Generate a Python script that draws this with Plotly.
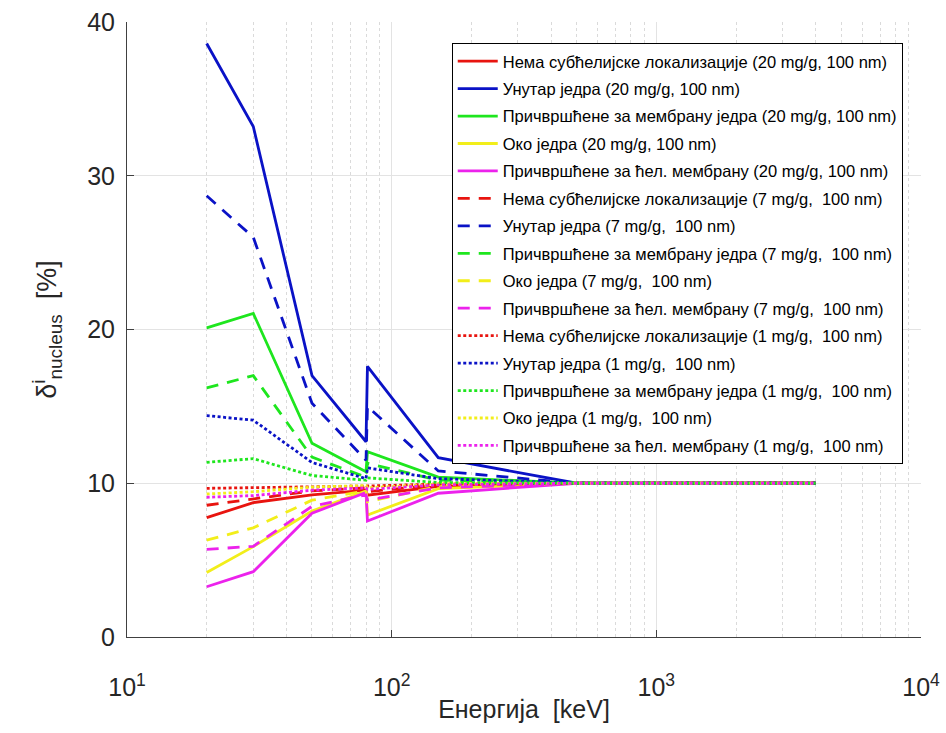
import plotly.graph_objects as go

# Photon energies (keV)
energy = [20, 30, 50, 80, 81, 150, 500, 1000, 4000]

# 20 mg/g, 100 nm
no_loc_20 = [7.76, 8.74, 9.24, 9.55, 9.22, 9.8, 10.0, 10.0, 10.0]
in_nuc_20 = [38.6, 33.2, 17.0, 12.7, 17.6, 11.66, 10.0, 10.0, 10.0]
nuc_mem_20 = [20.1, 21.05, 12.6, 10.75, 12.05, 10.4, 10.0, 10.0, 10.0]
around_20 = [4.19, 5.88, 8.2, 9.5, 7.93, 9.65, 10.0, 10.0, 10.0]
cell_mem_20 = [3.27, 4.25, 8.05, 9.4, 7.54, 9.35, 10.0, 10.0, 10.0]

# 7 mg/g, 100 nm
no_loc_7 = [8.57, 8.97, 9.5, 9.7, 9.45, 9.9, 10.0, 10.0, 10.0]
in_nuc_7 = [28.7, 26.0, 15.2, 11.5, 15.0, 10.8, 10.0, 10.0, 10.0]
nuc_mem_7 = [16.2, 17.0, 11.7, 10.4, 11.3, 10.2, 10.0, 10.0, 10.0]
around_7 = [6.3, 7.1, 8.9, 9.5, 8.8, 9.8, 10.0, 10.0, 10.0]
cell_mem_7 = [5.7, 5.9, 8.5, 9.25, 8.9, 9.7, 10.0, 10.0, 10.0]

# 1 mg/g, 100 nm
no_loc_1 = [9.67, 9.72, 9.8, 9.85, 9.82, 9.95, 10.0, 10.0, 10.0]
in_nuc_1 = [14.4, 14.1, 11.35, 10.3, 11.0, 10.3, 10.0, 10.0, 10.0]
nuc_mem_1 = [11.36, 11.6, 10.5, 10.2, 10.35, 10.05, 10.0, 10.0, 10.0]
around_1 = [9.3, 9.45, 9.75, 9.85, 9.7, 9.95, 10.0, 10.0, 10.0]
cell_mem_1 = [9.09, 9.2, 9.55, 9.7, 9.6, 9.9, 10.0, 10.0, 10.0]

locations = [
    "Нема субћелијске локализације",
    "Унутар једра",
    "Причвршћене за мембрану једра",
    "Око једра",
    "Причвршћене за ћел. мембрану",
]
colors = ["#e8140f", "#0a12c6", "#1ee61e", "#f2ee1a", "#ec22ec"]

groups = [
    ("20 mg/g, 100 nm", "solid", [no_loc_20, in_nuc_20, nuc_mem_20, around_20, cell_mem_20]),
    ("7 mg/g,  100 nm", "12px,9px", [no_loc_7, in_nuc_7, nuc_mem_7, around_7, cell_mem_7]),
    ("1 mg/g,  100 nm", "3px,2.5px", [no_loc_1, in_nuc_1, nuc_mem_1, around_1, cell_mem_1]),
]

fig = go.Figure()
k = 0
for conc, dash, series in groups:
    for name, color, values in zip(locations, colors, series):
        fig.add_trace(go.Scatter(
            x=energy, y=values, mode="lines",
            name=f"{name} ({conc})".replace(" ", "\u00a0"),
            legendgroup=f"g{k}",
            line=dict(color=color, width=2.8, dash=dash),
        ))
        k += 1

font_family = "Liberation Sans, Arial, sans-serif"
axis_color = "#262626"

fig.update_layout(
    width=946, height=733,
    margin=dict(l=127, r=25, t=22, b=96),
    paper_bgcolor="white", plot_bgcolor="white",
    font=dict(family=font_family, color=axis_color),
    showlegend=True,
    legend=dict(
        x=0.409, y=0.966, xanchor="left", yanchor="top",
        bgcolor="white", bordercolor="black", borderwidth=1,
        font=dict(size=16.5, color="black", family=font_family),
        itemwidth=40, tracegroupgap=3.0, traceorder="grouped",
    ),
)

fig.update_xaxes(
    type="log", range=[1, 4], automargin=False,
    tickvals=[10, 100, 1000, 10000],
    ticktext=["10<sup>1</sup>", "10<sup>2</sup>", "10<sup>3</sup>", "10<sup>4</sup>"],
    tickfont=dict(size=25, color=axis_color),
    ticks="inside", ticklen=7, tickcolor="#404040",
    ticklabelstandoff=28,
    showline=True, linecolor="#404040", linewidth=1,
    showgrid=True, gridcolor="#e3e3e3", gridwidth=1,
    minor=dict(showgrid=True, gridcolor="#dadada", griddash="dot", gridwidth=1,
               tickvals=[m * d for d in (10, 100, 1000) for m in range(2, 10)]),
    zeroline=False,
    title=dict(text="Енергија  [keV]", font=dict(size=25, color=axis_color), standoff=0),
)

fig.update_yaxes(
    range=[0, 40], tickvals=[0, 10, 20, 30, 40], automargin=False,
    tickfont=dict(size=25, color=axis_color),
    ticks="inside", ticklen=7, tickcolor="#404040",
    ticklabelstandoff=6,
    showline=True, linecolor="#404040", linewidth=1,
    showgrid=True, gridcolor="#e3e3e3", gridwidth=1,
    zeroline=False,
    title=dict(text="δ<sup>i</sup><sub>nucleus</sub>  [%]", font=dict(size=27, color=axis_color), standoff=22),
)

fig.write_html("out.html")
